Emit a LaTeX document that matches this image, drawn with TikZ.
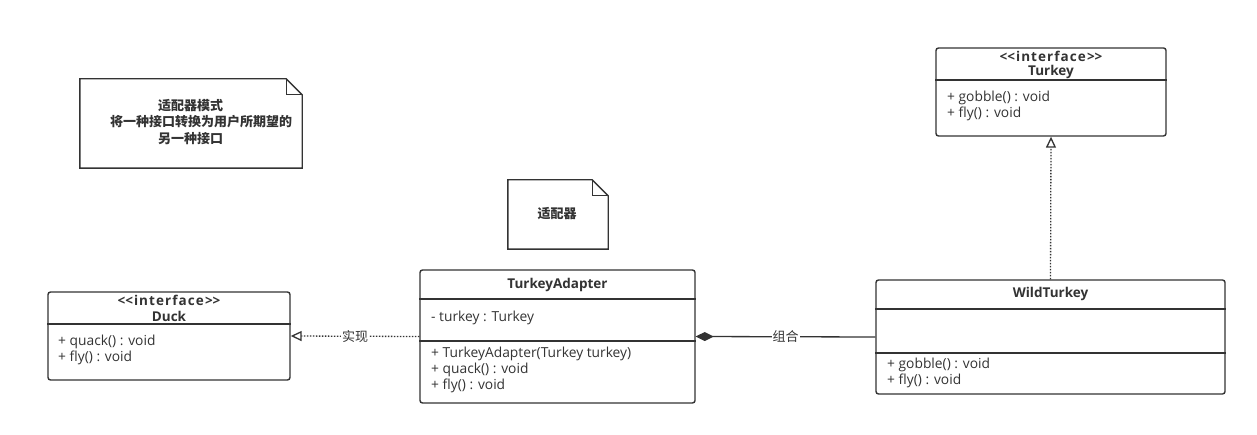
\documentclass[tikz,border=0pt]{standalone}
\usepackage{fontspec}
\setmainfont{Open Sans}
\newfontfamily\cjk{Noto Sans CJK SC}
\usetikzlibrary{arrows.meta,positioning}

\definecolor{linecol}{RGB}{51,51,51}
\definecolor{txtcol}{RGB}{51,51,51}

\newcommand{\stereo}{{\addfontfeature{LetterSpace=8}<\kern0pt<interface>\kern0pt>}}

\tikzset{
  umlbox/.style={draw=linecol, line width=1.4pt, rounded corners=2.5pt, inner sep=0pt, fill=white},
  sepline/.style={draw=linecol, line width=1.4pt},
  membertext/.style={anchor=west, inner sep=0pt, text=txtcol, font=\fontsize{13.8}{15}\selectfont},
  titletext/.style={inner sep=0pt, text=txtcol, font=\bfseries\fontsize{13.5}{15}\selectfont},
  noteshape/.style={draw=linecol, line width=1.4pt, fill=white},
  notetext/.style={inner sep=0pt, text=txtcol, font=\cjk\bfseries\fontsize{13}{16.5}\selectfont},
  realize/.style={draw=linecol, line width=1.3pt, dash pattern=on 1.4pt off 1.6pt,
    -{Triangle[open, length=11pt, width=10pt, line width=1.3pt]}},
  compose/.style={draw=linecol, line width=1.3pt,
    -{Diamond[length=18pt, width=9pt, fill=linecol]}},
  edgelabel/.style={fill=white, inner sep=1pt, text=txtcol, font=\cjk\fontsize{13}{14}\selectfont},
}

\begin{document}
\begin{tikzpicture}[x=1pt,y=-1pt]
\useasboundingbox[fill=white] (0,0) rectangle (1257,435);

% Note: adapter pattern
\node[minimum width=222pt, minimum height=89pt, inner sep=0pt] (patternnote) at (191,123.5) {};
\draw[noteshape] (patternnote.north west) -- ([xshift=-16pt]patternnote.north east)
  -- ([yshift=-16pt]patternnote.north east) -- (patternnote.south east)
  -- (patternnote.south west) -- cycle;
\draw[sepline] ([xshift=-16pt]patternnote.north east) -- ([xshift=-16pt,yshift=-16pt]patternnote.north east)
  -- ([yshift=-16pt]patternnote.north east);
\node[notetext, align=left, anchor=north west] (patterntext) at (110,99)
  {\hspace*{48pt}适配器模式\\将一种接口转换为用户所期望的\\\hspace*{48pt}另一种接口};

% Note: adapter
\node[minimum width=100pt, minimum height=69pt, inner sep=0pt] (adapternote) at (558,214.5) {};
\draw[noteshape] (adapternote.north west) -- ([xshift=-16pt]adapternote.north east)
  -- ([yshift=-16pt]adapternote.north east) -- (adapternote.south east)
  -- (adapternote.south west) -- cycle;
\draw[sepline] ([xshift=-16pt]adapternote.north east) -- ([xshift=-16pt,yshift=-16pt]adapternote.north east)
  -- ([yshift=-16pt]adapternote.north east);
\node[notetext] (adaptertext) at (557,214) {适配器};

% Node: Duck
\node[umlbox, minimum width=242pt, minimum height=88pt] (duck) at (169,336) {};
\draw[sepline] (duck.west |- 0,324) -- (duck.east |- 0,324);
\node[titletext] (duckstereo) at (169,300) {\stereo};
\node[titletext] (duckname) at (169,316) {Duck};
\node[membertext] (duckquack) at (58,342) {+ quack() : void};
\node[membertext] (duckfly) at (58,358) {+ fly() : void};

% Node: TurkeyAdapter
\node[umlbox, minimum width=275pt, minimum height=133pt] (adapter) at (557.5,336.5) {};
\draw[sepline] (adapter.west |- 0,299) -- (adapter.east |- 0,299);
\draw[sepline] (adapter.west |- 0,341) -- (adapter.east |- 0,341);
\node[titletext] (adaptername) at (557.5,285) {TurkeyAdapter};
\node[membertext] (adapterattr) at (431,318) {- turkey : Turkey};
\node[membertext] (adapterctor) at (431,354) {+ TurkeyAdapter(Turkey turkey)};
\node[membertext] (adapterquack) at (431,370) {+ quack() : void};
\node[membertext] (adapterfly) at (431,386) {+ fly() : void};

% Node: WildTurkey
\node[umlbox, minimum width=349pt, minimum height=114pt] (wild) at (1050.5,337) {};
\draw[sepline] (wild.west |- 0,309) -- (wild.east |- 0,309);
\draw[sepline] (wild.west |- 0,353) -- (wild.east |- 0,353);
\node[titletext] (wildname) at (1050.5,294) {WildTurkey};
\node[membertext] (wildgobble) at (887,365) {+ gobble() : void};
\node[membertext] (wildfly) at (887,381) {+ fly() : void};

% Node: Turkey
\node[umlbox, minimum width=230pt, minimum height=88pt] (turkey) at (1051,92) {};
\draw[sepline] (turkey.west |- 0,80) -- (turkey.east |- 0,80);
\node[titletext] (turkeystereo) at (1051,56) {\stereo};
\node[titletext] (turkeyname) at (1051,72) {Turkey};
\node[membertext] (turkeygobble) at (947,98) {+ gobble() : void};
\node[membertext] (turkeyfly) at (947,114) {+ fly() : void};

% Edge: adapter -> duck
\draw[realize] (adapter.west) -- node[edgelabel] (implabel) {实现} (duck.east);

% Edge: wild -> adapter
\draw[compose] (wild.west) -- node[edgelabel] (complabel) {组合} (adapter.east);

% Edge: wild -> turkey
\draw[realize] (wild.north) -- (turkey.south);
\end{tikzpicture}
\end{document}
